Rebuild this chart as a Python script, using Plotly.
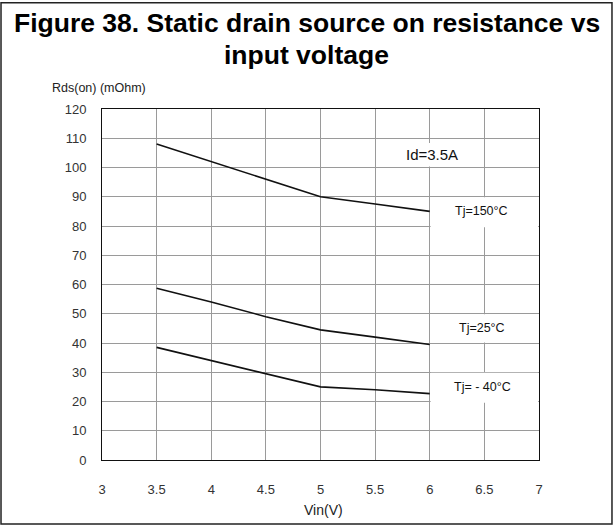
import plotly.graph_objects as go

vin = [3.5, 4.0, 4.5, 5.0, 5.5, 6.0]
rds_150 = [108, 102, 96, 90, 87.5, 85]
rds_25 = [58.7, 54, 49, 44.5, 42, 39.5]
rds_m40 = [38.5, 34, 29.5, 25, 24, 22.7]

x_ticks = [3, 3.5, 4, 4.5, 5, 5.5, 6, 6.5, 7]
x_tick_text = ["3", "3.5", "4", "4.5", "5", "5.5", "6", "6.5", "7"]
y_ticks = list(range(0, 121, 10))

labels = ["Tj=150°C", "Tj=25°C", "Tj= - 40°C"]
label_x = [6.47, 6.48, 6.48]
label_y = [85.1, 45.1, 25.0]

FONT = "Liberation Sans, Arial, sans-serif"

fig = go.Figure()
for ys in (rds_150, rds_25, rds_m40):
    fig.add_trace(go.Scatter(x=vin, y=ys, mode="lines",
                             line=dict(color="#111111", width=1.6),
                             showlegend=False, hoverinfo="skip"))

boxes = [
    (6.008, 6.992, 79.6, 89.8),
    (6.008, 7.05, 40.2, 49.8),
    (6.008, 6.992, 19.6, 29.8),
    (5.72, 6.32, 100.3, 108.4),
]
shapes = []
for x0, x1, y0, y1 in boxes:
    shapes.append(dict(type="rect", xref="x", yref="y", x0=x0, x1=x1, y0=y0, y1=y1,
                       fillcolor="white", line=dict(width=0), layer="above"))
shapes.append(dict(type="rect", xref="paper", yref="paper",
                   x0=-0.2311, x1=1.1670, y0=-0.1823, y1=1.3028,
                   line=dict(color="#222222", width=1.5), fillcolor="rgba(0,0,0,0)",
                   layer="above"))

annotations = []
for t, lx, ly in zip(labels, label_x, label_y):
    annotations.append(dict(x=lx, y=ly, xref="x", yref="y", text=t, showarrow=False,
                            font=dict(family=FONT, size=12.5, color="#111111")))
annotations.append(dict(x=6.02, y=104.3, xref="x", yref="y", text="Id=3.5A", showarrow=False,
                        font=dict(family=FONT, size=15, color="#111111")))
annotations.append(dict(x=0.469, y=1.245, xref="paper", yref="paper",
                        text="<b>Figure 38. Static drain source on resistance vs</b>",
                        showarrow=False, yanchor="middle", xanchor="center",
                        font=dict(family=FONT, size=26.5, color="#000000")))
annotations.append(dict(x=0.469, y=1.155, xref="paper", yref="paper",
                        text="<b>input voltage</b>",
                        showarrow=False, yanchor="middle", xanchor="center",
                        font=dict(family=FONT, size=26.5, color="#000000")))
annotations.append(dict(x=-0.119, y=1.060, xref="paper", yref="paper",
                        text="Rds(on) (mOhm)", showarrow=False, xanchor="left", yanchor="middle",
                        font=dict(family=FONT, size=12.5, color="#222222")))
annotations.append(dict(x=0.506, y=-0.142, xref="paper", yref="paper",
                        text="Vin(V)", showarrow=False, xanchor="center", yanchor="middle",
                        font=dict(family=FONT, size=14, color="#222222")))

fig.update_layout(
    width=614, height=526,
    margin=dict(l=102, r=75, t=109, b=66),
    paper_bgcolor="white", plot_bgcolor="white",
    shapes=shapes, annotations=annotations,
    font=dict(family=FONT, size=13, color="#222222"),
)
fig.update_xaxes(range=[3, 7], tickvals=x_ticks, ticktext=x_tick_text,
                 showgrid=True, gridcolor="#9a9a9a", gridwidth=1,
                 showline=True, linecolor="#111111", linewidth=1, mirror=True,
                 ticks="", ticklabelstandoff=17, zeroline=False,
                 tickfont=dict(family=FONT, size=13, color="#333333"))
fig.update_yaxes(range=[0, 120], tickvals=y_ticks,
                 showgrid=True, gridcolor="#9a9a9a", gridwidth=1,
                 showline=True, linecolor="#111111", linewidth=1, mirror=True,
                 ticks="", ticklabelstandoff=12, zeroline=False,
                 tickfont=dict(family=FONT, size=13, color="#333333"))

fig.write_html("out.html", config={"displayModeBar": False},
               post_script="document.body.style.margin='0';document.body.style.overflow='hidden';")
